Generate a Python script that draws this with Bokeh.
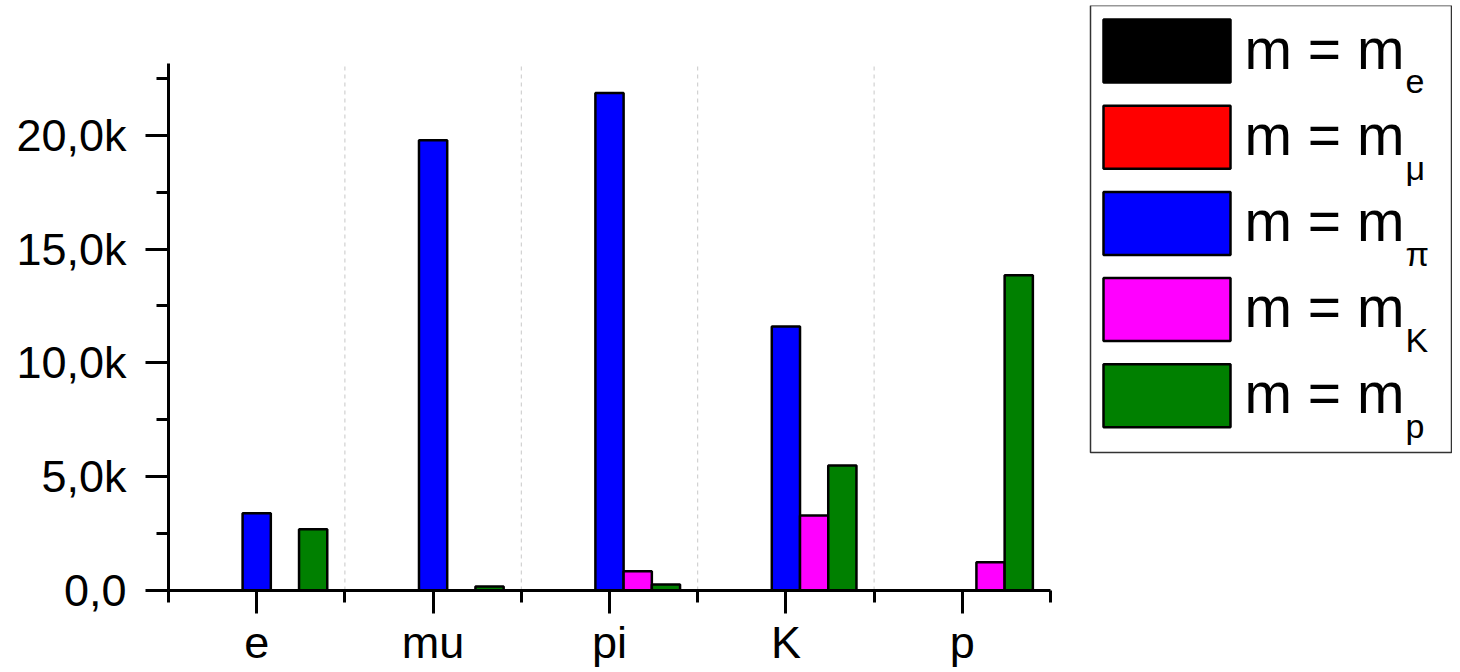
from bokeh.plotting import figure
from bokeh.models import Range1d, FixedTicker
from bokeh.core.properties import value
from bokeh.embed import file_html
from bokeh.resources import INLINE

# ---- data ----
categories = ["e", "mu", "pi", "K", "p"]
series_names = ["m_e", "m_mu", "m_pi", "m_K", "m_p"]
subscripts = ["e", "μ", "π", "K", "p"]
colors = ["#000000", "#FF0000", "#0000FF", "#FF00FF", "#008000"]
m_e = [0, 0, 0, 0, 0]
m_mu = [0, 0, 0, 0, 0]
m_pi = [3390, 19780, 21850, 11600, 0]
m_K = [0, 0, 850, 3300, 1240]
m_p = [2690, 180, 260, 5490, 13850]
series_values = [m_e, m_mu, m_pi, m_K, m_p]
y_ticks = [0, 5000, 10000, 15000, 20000]
y_tick_labels = ["0,0", "5,0k", "10,0k", "15,0k", "20,0k"]
y_minor = [2500, 7500, 12500, 17500, 22500]
y_max = 23150

FONT = "Liberation Sans"
ns = len(series_names)
nc = len(categories)
bar_w = 0.16

# ---- layout (canvas pixels) ----
W, H = 1452, 670
FL, FR, FT, FB = 168, 1452, 5, 590      # frame edges
AX_R, AX_T = 1050, 63                    # where the axes end
x_end = nc * (FR - FL) / (AX_R - FL)
y_end = y_max * (FB - FT) / (FB - AX_T)

p = figure(width=W, height=H, x_range=Range1d(0, x_end), y_range=Range1d(0, y_end),
           output_backend="svg", toolbar_location=None,
           min_border_left=FL, min_border_right=W - FR, min_border_top=FT,
           min_border_bottom=H - FB)
p.outline_line_color = None
p.background_fill_color = "white"
p.xgrid.visible = False
p.ygrid.visible = False

# dashed separators between categories
p.segment(x0=list(range(1, nc)), x1=list(range(1, nc)), y0=0, y1=y_max,
          line_color="#c8c8c8", line_dash="4 4", line_width=1)

for j, (vals, col) in enumerate(zip(series_values, colors)):
    xs = [i + 0.5 + (j - (ns - 1) / 2) * bar_w for i in range(nc)]
    p.vbar(x=xs, top=vals, bottom=0, width=bar_w, fill_color=col,
           line_color="black", line_width=2.5)

# axes
p.xaxis.ticker = FixedTicker(ticks=[i + 0.5 for i in range(nc)],
                             minor_ticks=list(range(nc + 1)))
p.xaxis.major_label_overrides = {i + 0.5: c for i, c in enumerate(categories)}
p.xaxis.bounds = (0, nc)
p.yaxis.ticker = FixedTicker(ticks=y_ticks, minor_ticks=y_minor)
p.yaxis.major_label_overrides = dict(zip(y_ticks, y_tick_labels))
p.yaxis.bounds = (0, y_max)
for ax in (p.xaxis, p.yaxis):
    ax.axis_line_width = 3
    ax.axis_line_color = "black"
    ax.major_tick_line_width = 3
    ax.minor_tick_line_width = 3
    ax.major_tick_line_color = "black"
    ax.minor_tick_line_color = "black"
    ax.major_tick_out = 23
    ax.major_tick_in = 0
    ax.minor_tick_out = 12
    ax.minor_tick_in = 0
    ax.major_label_text_font = FONT
    ax.major_label_text_font_size = "45px"
    ax.major_label_text_color = "black"
p.yaxis.major_label_standoff = 19
p.xaxis.major_label_standoff = 3

# ---- legend, drawn on pixel-mapped extra ranges ----
p.extra_x_ranges = {"leg": Range1d(FL, FR)}
p.extra_y_ranges = {"leg": Range1d(FB, FT)}
LG = dict(x_range_name="leg", y_range_name="leg")
p.quad(left=1090, right=1451, top=5, bottom=452, fill_color="white",
       line_color="#333333", line_width=1.5, **LG)
pitch = 86.2
tops = [19 + pitch * k for k in range(ns)]
p.quad(left=1103, right=1230, top=tops, bottom=[t + 63 for t in tops],
       fill_color=colors, line_color="black", line_width=2.5, **LG)
p.text(x=1244, y=[t + 29 for t in tops], text=["m = m"] * ns,
       text_font=value(FONT), text_font_size="57px", text_baseline="alphabetic",
       text_color="black", **LG)
p.text(x=1405, y=[t + 62 for t in tops], text=subscripts,
       text_font=value(FONT), text_font_size="34px", text_baseline="alphabetic",
       text_color="black", **LG)

open("out.html", "w").write(file_html(p, INLINE))
